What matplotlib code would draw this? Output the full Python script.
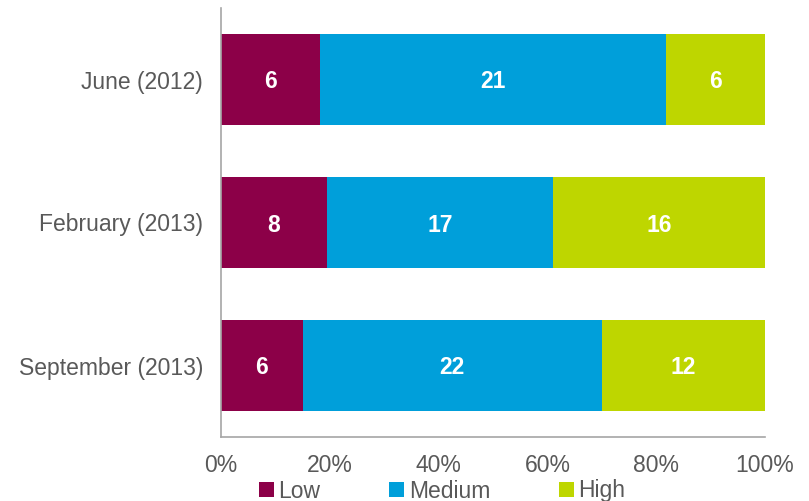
import matplotlib
matplotlib.use("Agg")
import matplotlib.pyplot as plt
import numpy as np

categories = ["June (2012)", "February (2013)", "September (2013)"]
low = [6, 8, 6]
medium = [21, 17, 22]
high = [6, 16, 12]
series_names = ["Low", "Medium", "High"]
colors = ["#8C0048", "#009FDA", "#BED600"]
xticks = [0, 20, 40, 60, 80, 100]
xticklabels = ["0%", "20%", "40%", "60%", "80%", "100%"]

plt.rcParams['font.family'] = ['Liberation Sans', 'DejaVu Sans']
FS = 16.5

fig = plt.figure(figsize=(8.09, 5.01), dpi=100)
W, H = 809, 501
ax = fig.add_axes([221 / W, 1 - 437 / H, (765 - 221) / W, (437 - 8) / H])

data = np.array([low, medium, high], dtype=float)
totals = data.sum(axis=0)
pct = data / totals * 100
ypos = np.arange(len(categories))[::-1]  # June at top

left = np.zeros(len(categories))
for i, name in enumerate(series_names):
    bars = ax.barh(ypos, pct[i], left=left, height=0.64, color=colors[i], label=name)
    for j, b in enumerate(bars):
        ax.text(left[j] + pct[i][j] / 2, ypos[j], str(int(data[i][j])),
                ha='center', va='center_baseline', color='white', fontsize=FS, fontweight='bold')
    left += pct[i]

ax.set_xlim(0, 100)
ax.set_ylim(-0.5, 2.5)
ax.set_yticks(ypos)
ax.set_yticklabels(categories, fontsize=FS, color='#595959')
ax.set_xticks(xticks)
ax.set_xticklabels(xticklabels, fontsize=FS, color='#595959')
ax.tick_params(axis='both', length=0)
ax.tick_params(axis='y', pad=13)
ax.tick_params(axis='x', pad=12)
for s in ['top', 'right']:
    ax.spines[s].set_visible(False)
for s in ['left', 'bottom']:
    ax.spines[s].set_color('#A6A6A6')
    ax.spines[s].set_linewidth(1.2)

leg = fig.legend(loc='center', bbox_to_anchor=(442 / W, 1 - 491 / H), ncol=3, frameon=False,
                 fontsize=FS, handlelength=0.66, handleheight=0.66, handletextpad=0.2,
                 columnspacing=3.0, borderpad=0)
for t in leg.get_texts():
    t.set_color('#595959')

fig.savefig("out.png", dpi=100)
